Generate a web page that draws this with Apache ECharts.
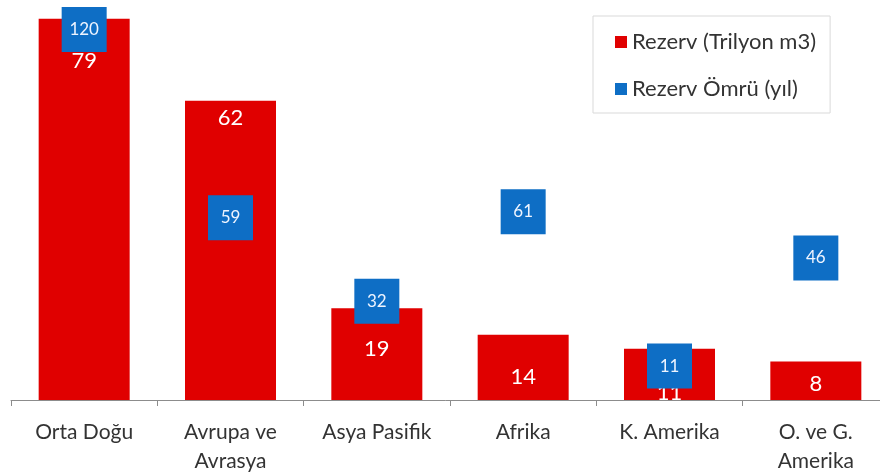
<!DOCTYPE html>
<html>
<head>
<meta charset="utf-8">
<script src="https://cdn.jsdelivr.net/npm/echarts@6/dist/echarts.min.js"></script>
<style>
  html, body { margin: 0; padding: 0; background: #fff; }
  #chart { width: 880px; height: 475px; }
</style>
</head>
<body>
<div id="chart"></div>
<script>
// data
const regions = ['Orta Doğu', 'Avrupa ve\nAvrasya', 'Asya Pasifik', 'Afrika', 'K. Amerika', 'O. ve G.\nAmerika']
const reserves = [79, 62, 19, 13.5, 10.6, 8]        // Rezerv (Trilyon m3)
const reserveLife = [120, 59, 32, 61, 11, 46]        // Rezerv Ömrü (yıl)

// how far each bar label sits below the bar top (styling only)
const labelDrop = [31, 6, 30, 31, 33, 12]

const fontFamily = 'Lato, "Open Sans", sans-serif'
const red = '#E00000'
const blue = '#0E6EC5'

const chart = echarts.init(document.getElementById('chart'))

chart.setOption({
  animation: false,
  textStyle: { fontFamily: fontFamily },
  grid: {
    left: 11,
    width: 878,
    top: 14,
    height: 386,
    outerBoundsMode: 'none'
  },
  legend: {
    orient: 'vertical',
    left: 593,
    top: 16,
    padding: [15, 14, 13, 22],
    itemGap: 25,
    itemWidth: 12,
    itemHeight: 12,
    borderColor: '#D9D9D9',
    borderWidth: 1,
    textStyle: { fontSize: 22, color: '#333', fontFamily: fontFamily },
    data: [
      { name: 'Rezerv (Trilyon m3)', icon: 'rect' },
      { name: 'Rezerv Ömrü (yıl)', icon: 'rect' }
    ]
  },
  xAxis: {
    type: 'category',
    data: regions,
    axisLine: { lineStyle: { color: '#8C8C8C', width: 1 } },
    axisTick: { show: true, length: 6, lineStyle: { color: '#8C8C8C' } },
    axisLabel: {
      fontSize: 21,
      lineHeight: 29,
      margin: 18,
      color: '#333',
      fontFamily: fontFamily,
      interval: 0
    }
  },
  yAxis: [
    { type: 'value', min: 0, max: 80, show: false, splitLine: { show: false } },
    { type: 'value', min: 0, max: 125, show: false, splitLine: { show: false } }
  ],
  series: [
    {
      name: 'Rezerv (Trilyon m3)',
      type: 'bar',
      barWidth: 91,
      itemStyle: { color: red },
      data: reserves.map((v, i) => ({
        value: v,
        label: {
          show: true,
          position: 'insideTop',
          distance: labelDrop[i],
          formatter: p => Math.round(p.value),
          color: '#fff',
          fontSize: 22,
          fontFamily: fontFamily
        }
      })),
      z: 2
    },
    {
      name: 'Rezerv Ömrü (yıl)',
      type: 'scatter',
      yAxisIndex: 1,
      symbol: 'rect',
      symbolSize: 45,
      itemStyle: { color: blue, opacity: 1 },
      label: {
        show: true,
        position: 'inside',
        color: '#EEF4FF',
        fontSize: 17,
        fontFamily: fontFamily
      },
      data: reserveLife,
      z: 5
    }
  ]
})
</script>
</body>
</html>
